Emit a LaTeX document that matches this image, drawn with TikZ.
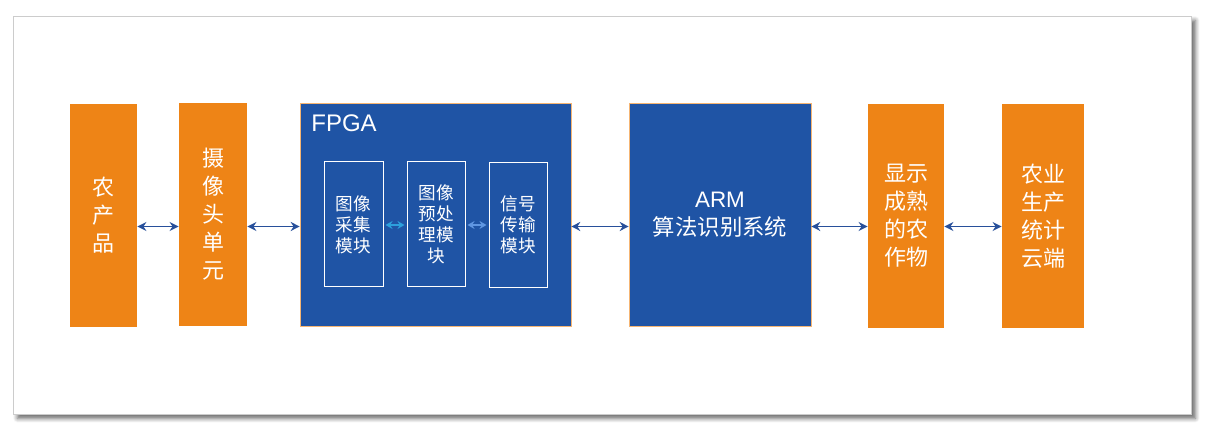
\documentclass[tikz,border=0pt]{standalone}
\usepackage{fontspec}
\setmainfont{Liberation Sans}
\newfontfamily\cjk{Noto Sans CJK SC}
\usepackage{xcolor}
\usepackage{tikz}
\usetikzlibrary{arrows.meta,shadows.blur}

\definecolor{boxorange}{RGB}{238,132,22}
\definecolor{boxblue}{RGB}{31,84,165}
\definecolor{linkblue}{RGB}{40,80,155}
\definecolor{innerA}{RGB}{45,160,220}
\definecolor{innerB}{RGB}{95,150,225}

\tikzset{
  unit/.style={inner sep=0pt, align=center, text=white, font=\cjk\fontsize{11pt}{14pt}\selectfont},
  orangebox/.style={unit, fill=boxorange},
  bluebox/.style={unit, fill=boxblue, draw=boxorange!60!white, line width=0.3pt},
  modbox/.style={unit, fill=boxblue, draw=white, line width=0.5pt,
    minimum height=62.5pt, font=\cjk\fontsize{8.8pt}{10.5pt}\selectfont},
  link/.style={{Stealth[length=4.5pt,width=4.5pt]}-{Stealth[length=4.5pt,width=4.5pt]}, line width=0.9pt, linkblue},
  innerlink/.style={{Stealth[length=3.5pt,width=4pt]}-{Stealth[length=3.5pt,width=4pt]}, line width=1pt}
}

\begin{document}
\begin{tikzpicture}[x=0.5pt,y=-0.5pt]
\useasboundingbox (0,0) rectangle (1209,437);

% Frame
\filldraw[fill=white, draw=black!20, line width=0.4pt,
  blur shadow={shadow xshift=2.2pt, shadow yshift=-2.2pt, shadow blur steps=6, shadow opacity=60}]
  (13,16) rectangle (1191,414);

% Outer blocks
\node[orangebox, minimum width=33.5pt, minimum height=111.5pt] (prod) at (103.5,215.5) {农\\产\\品};
\node[orangebox, minimum width=34pt, minimum height=111.5pt] (cam) at (213,214.5) {摄\\像\\头\\单\\元};
\node[bluebox, minimum width=135.5pt, minimum height=111.5pt] (fpga) at (435.5,214.5) {};
\node[bluebox, minimum width=91pt, minimum height=111.5pt,
  font=\fontsize{11.2pt}{14pt}\selectfont] (arm) at (720,214.5) {ARM\\{\cjk 算法识别系统}};
\node[orangebox, minimum width=38pt, minimum height=112pt] (disp) at (906,216) {显示\\成熟\\的农\\作物};
\node[orangebox, minimum width=41pt, minimum height=112pt] (cloud) at (1043,216) {农业\\生产\\统计\\云端};

% FPGA label
\node[anchor=base west, inner sep=0pt, text=white, font=\fontsize{12pt}{14pt}\selectfont] (fpgalbl) at (311,132) {FPGA};

% Modules inside FPGA
\node[modbox, minimum width=29.5pt] (acq) at (353.5,224.5) {图像\\采集\\模块};
\node[modbox, minimum width=29pt] (pre) at (436,224.5) {图像\\预处\\理模\\块};
\node[modbox, minimum width=29pt] (sig) at (518,225) {信号\\传输\\模块};

% Connectors
\coordinate (row) at (0,226.5);
\coordinate (inrow) at (0,225);
\draw[link] (prod.east |- row) -- (cam.west |- row);
\draw[link] (cam.east |- row) -- (fpga.west |- row);
\draw[link] (fpga.east |- row) -- (arm.west |- row);
\draw[link] (arm.east |- row) -- (disp.west |- row);
\draw[link] (disp.east |- row) -- (cloud.west |- row);
\draw[innerlink, innerA] ([xshift=1pt]acq.east |- inrow) -- ([xshift=-1pt]pre.west |- inrow);
\draw[innerlink, innerB] ([xshift=1pt]pre.east |- inrow) -- ([xshift=-1pt]sig.west |- inrow);
\end{tikzpicture}
\end{document}
